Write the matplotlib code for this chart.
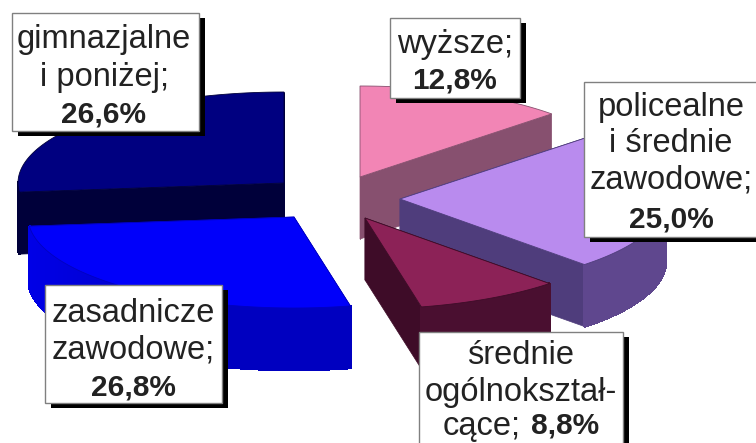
import matplotlib
matplotlib.use("Agg")
import matplotlib.pyplot as plt
from matplotlib.colors import to_rgb
from matplotlib.patches import Polygon, Rectangle
import numpy as np

#---------------------------------------------------------------------------------
# Data (clockwise from the top)

categories = ["wyższe", "policealne i średnie zawodowe", "średnie ogólnokształcące",
              "zasadnicze zawodowe", "gimnazjalne i poniżej"]
shares = [12.8, 25.0, 8.8, 26.8, 26.6]

top_colors = ["#f285b5", "#b98bee", "#8c2257", "#0000fa", "#000080"]
cut_colors = ["#87506f", "#4f3d7c", "#3e0c28", "#0000c0", "#00003a"]
wall_left = ["#87506f", "#5a4288", "#4a0f30", "#0000e6", "#00003a"]
wall_right = ["#87506f", "#5f478e", "#4a0f30", "#0000c0", "#00003a"]

# apex of each exploded slice, pixels
apex_x = [360, 400, 365, 294, 284]
apex_y = [177, 199, 218, 217, 183]

RX = 266
RY = 91
DEPTH = 62
draw_order = [0, 1, 2, 4, 3]

# label boxes: x0, y0, x1, y1
boxes = [(390, 18, 520, 98), (584, 82, 760, 237), (419, 332, 623, 450),
         (45, 285, 222, 403), (12, 13, 199, 131)]
label_lines = [
    [("wyższe;", 455, 44, "normal", "center"), ("12,8%", 455, 80, "bold", "center")],
    [("policealne", 671, 107, "normal", "center"), ("i średnie", 671, 144, "normal", "center"),
     ("zawodowe;", 671, 180, "normal", "center"), ("25,0%", 671, 219, "bold", "center")],
    [("średnie", 521, 356, "normal", "center"), ("ogólnokształ-", 521, 392, "normal", "center"),
     ("cące;", 521, 426, "normal", "right"), ("8,8%", 531, 426, "bold", "left")],
    [("zasadnicze", 133, 314, "normal", "center"), ("zawodowe;", 133, 350, "normal", "center"),
     ("26,8%", 133, 387, "bold", "center")],
    [("gimnazjalne", 104, 39, "normal", "center"), ("i poniżej;", 104, 77, "normal", "center"),
     ("26,6%", 104, 114, "bold", "center")],
]

#---------------------------------------------------------------------------------
# Figure in pixel coordinates

plt.rcParams["font.family"] = ["Liberation Sans", "DejaVu Sans"]
fig = plt.figure(figsize=(7.56, 4.43), dpi=100)
ax = fig.add_axes([0, 0, 1, 1])
ax.set_xlim(0, 756)
ax.set_ylim(443, 0)
ax.axis("off")

edges = np.concatenate([[0], np.cumsum(shares)]) / sum(shares) * 2 * np.pi


def rim(cx, cy, t):
    return cx + RX * np.sin(t), cy - RY * np.cos(t)


z = 1
for i in draw_order:
    cx, cy = apex_x[i], apex_y[i]
    t = np.linspace(edges[i], edges[i + 1], 120)
    xs, ys = rim(cx, cy, t)

    # the two cut faces
    for k in [0, -1]:
        pts = [(cx, cy), (xs[k], ys[k]), (xs[k], ys[k] + DEPTH), (cx, cy + DEPTH)]
        ax.add_patch(Polygon(pts, facecolor=cut_colors[i], edgecolor=cut_colors[i], lw=0.5, zorder=z))

    # outer wall, front half only: one base shape, then shading strips on it
    front = np.cos(t) <= 0.02
    if front.any():
        wx, wy = xs[front], ys[front]
        pts = list(zip(wx, wy)) + list(zip(wx[::-1], wy[::-1] + DEPTH))
        c0, c1 = np.array(to_rgb(wall_left[i])), np.array(to_rgb(wall_right[i]))
        ax.add_patch(Polygon(pts, facecolor=(c0 + c1) / 2, edgecolor=(c0 + c1) / 2, lw=0.5, zorder=z))
        for j in range(len(wx) - 1):
            f = (wx[j] - (cx - RX)) / (2 * RX)
            col = c0 + (c1 - c0) * min(1, f * 3)
            strip = [(wx[j], wy[j]), (wx[j + 1], wy[j + 1]), (wx[j + 1], wy[j + 1] + DEPTH), (wx[j], wy[j] + DEPTH)]
            ax.add_patch(Polygon(strip, facecolor=col, edgecolor=col, lw=1.2, antialiased=False, zorder=z))

    # top face
    pts = [(cx, cy)] + list(zip(xs, ys))
    ax.add_patch(Polygon(pts, facecolor=top_colors[i], edgecolor=cut_colors[i], lw=0.6, zorder=z + 0.5))
    z += 1

#---------------------------------------------------------------------------------
# Label boxes

for (x0, y0, x1, y1), lines in zip(boxes, label_lines):
    ax.add_patch(Rectangle((x0 + 6, y0 + 5), x1 - x0, y1 - y0, facecolor="black", edgecolor="none", zorder=10))
    ax.add_patch(Rectangle((x0, y0), x1 - x0, y1 - y0, facecolor="white", edgecolor="#808080", lw=1, zorder=11))
    for txt, x, y, weight, ha in lines:
        size = 21.5 if weight == "bold" else 23.5
        ax.text(x, y, txt, fontsize=size, fontweight=weight, ha=ha, va="center", color="#222222", zorder=12)

fig.savefig("out.png", dpi=100)
